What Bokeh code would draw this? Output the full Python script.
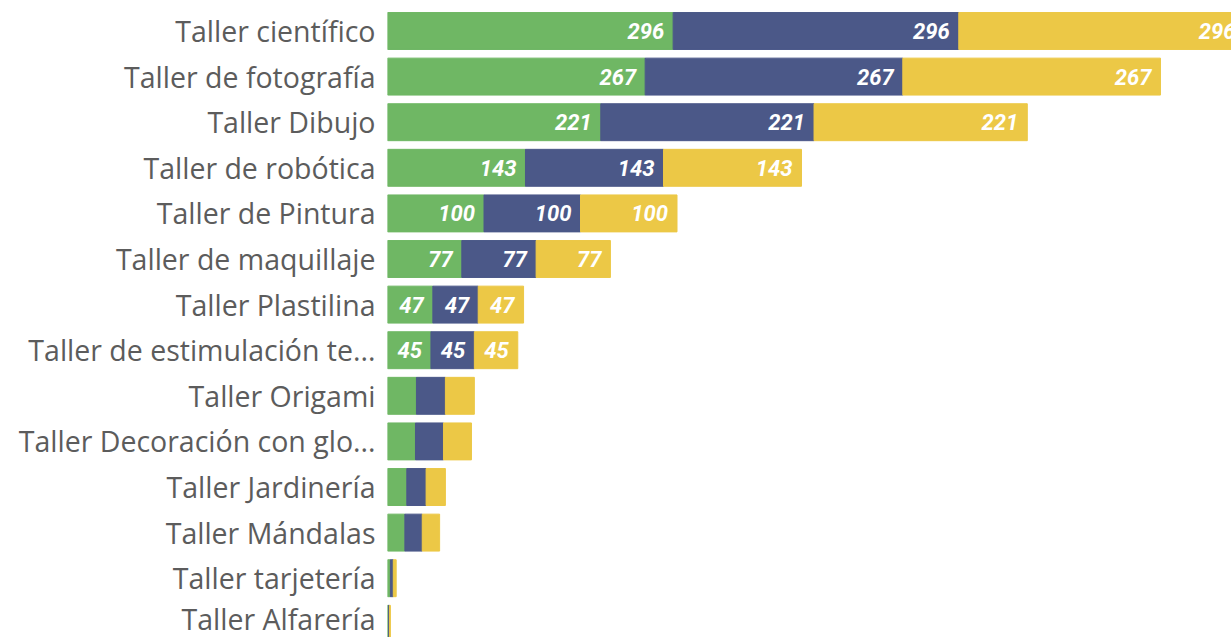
from bokeh.plotting import figure
from bokeh.models import ColumnDataSource, Range1d, FixedTicker
from bokeh.core.properties import value
from bokeh.embed import file_html
from bokeh.resources import INLINE

categories = ["Taller científico", "Taller de fotografía", "Taller Dibujo",
              "Taller de robótica", "Taller de Pintura", "Taller de maquillaje",
              "Taller Plastilina", "Taller de estimulación te...", "Taller Origami",
              "Taller Decoración con glo...", "Taller Jardinería", "Taller Mándalas",
              "Taller tarjetería", "Taller Alfarería"]
serie1 = [296, 267, 221, 143, 100, 77, 47, 45, 30, 29, 20, 18, 3, 1]
serie2 = [296, 267, 221, 143, 100, 77, 47, 45, 30, 29, 20, 18, 3, 1]
serie3 = [296, 267, 221, 143, 100, 77, 47, 45, 30, 29, 20, 18, 3, 1]
colors = ["#6FB764", "#4B5888", "#ECC846"]

ypos = list(range(len(categories)))
source = ColumnDataSource(dict(y=ypos, s1=serie1, s2=serie2, s3=serie3))

p = figure(width=1231, height=637, output_backend="svg", toolbar_location=None,
           x_range=Range1d(0, 874.6), y_range=Range1d(13.30, -0.669),
           x_axis_location=None, min_border_left=387, min_border_right=0,
           min_border_top=0, min_border_bottom=0)
p.outline_line_color = None
p.grid.visible = False

p.hbar_stack(["s1", "s2", "s3"], y="y", height=0.81, color=colors, source=source)

# data labels
lx, ly, lt = [], [], []
for i in range(len(categories)):
    ends = [serie1[i], serie1[i] + serie2[i], serie1[i] + serie2[i] + serie3[i]]
    vals = [serie1[i], serie2[i], serie3[i]]
    for e, v in zip(ends, vals):
        if v >= 40:
            lx.append(e)
            ly.append(i)
            lt.append(str(v))
p.text(x=lx, y=ly, text=lt, text_align="right", text_baseline="middle",
       x_offset=-9, text_color="white", text_font=value("Roboto"),
       text_font_style="bold italic", text_font_size="22px")

ax = p.yaxis[0]
ax.ticker = FixedTicker(ticks=ypos)
ax.major_label_overrides = {i: c for i, c in enumerate(categories)}
ax.axis_line_color = None
ax.major_tick_line_color = None
ax.minor_tick_line_color = None
ax.major_label_standoff = 6
ax.major_label_text_font = "Open Sans"
ax.major_label_text_font_size = "28.5px"
ax.major_label_text_color = "#5c5c5c"

open("out.html", "w").write(file_html(p, INLINE))
